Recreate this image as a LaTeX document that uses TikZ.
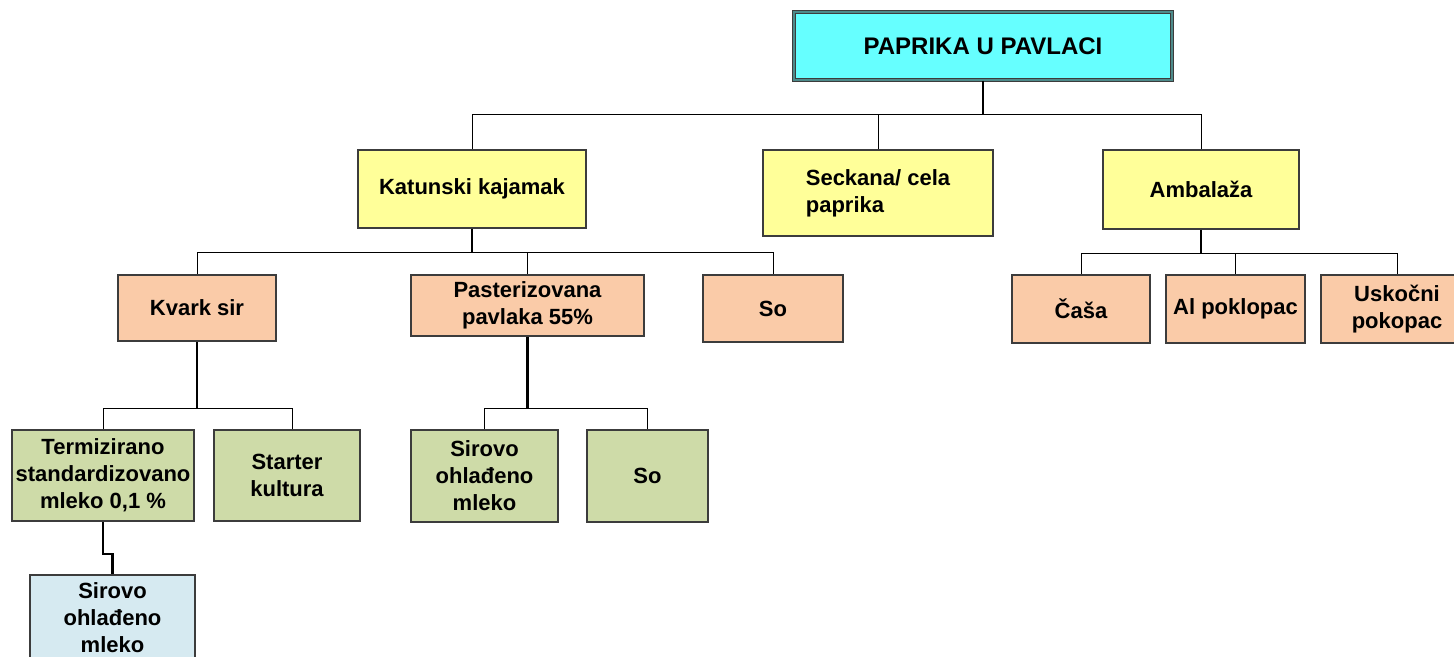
\documentclass[tikz,border=0pt]{standalone}
\usepackage{fontspec}
\setmainfont{Liberation Sans}
\usepackage{tikz}
\usetikzlibrary{positioning}

\definecolor{rootcyan}{RGB}{102,255,255}
\definecolor{lvlyellow}{RGB}{255,255,153}
\definecolor{lvlsalmon}{RGB}{250,203,168}
\definecolor{lvlgreen}{RGB}{206,219,168}
\definecolor{lvlblue}{RGB}{214,234,241}
\definecolor{boxline}{RGB}{60,60,60}

\begin{document}
\begin{tikzpicture}[x=0.5pt,y=-0.5pt]
\tikzstyle{every node}+=[inner sep=0pt, font=\bfseries\fontsize{11}{13.5}\selectfont, align=center]
\tikzstyle{box}=[draw=boxline, line width=0.75pt, minimum width=#1]
\tikzstyle{stem}=[black, line width=1.2pt]
\tikzstyle{branch}=[black, line width=0.5pt]
\useasboundingbox (0,0) rectangle (1454,657);
% top
\node [box=189pt, minimum height=34pt, fill=rootcyan, double=boxline!60!rootcyan, double distance=0.8pt, font=\bfseries\fontsize{12}{14}\selectfont] (root) at (983,46) {PAPRIKA U PAVLACI};
% second level
\node [box=114pt, minimum height=39pt, fill=lvlyellow] (kat) at (472,189) {Katunski kajamak};
\node [box=115pt, minimum height=43pt, fill=lvlyellow, align=left] (sec) at (878,193) {Seckana/ cela\\paprika};
\node [box=98pt, minimum height=39.5pt, fill=lvlyellow] (amb) at (1201,189.5) {Ambala\v{z}a};
% third level
\node [box=79pt, minimum height=33pt, fill=lvlsalmon] (kvark) at (197,308) {Kvark sir};
\node [box=116.5pt, minimum height=30.5pt, fill=lvlsalmon] (past) at (527.5,305.5) {Pasterizovana\\pavlaka 55\%};
\node [box=70pt, minimum height=33.5pt, fill=lvlsalmon] (so1) at (773,308.5) {So};
\node [box=69pt, minimum height=34pt, fill=lvlsalmon] (casa) at (1081,309) {\v{C}a\v{s}a};
\node [box=69.5pt, minimum height=34pt, fill=lvlsalmon] (al) at (1235.5,309) {Al poklopac};
\node [box=76pt, minimum height=34pt, fill=lvlsalmon] (usk) at (1397,309) {Usko\v{c}ni\\pokopac};
% fourth level
\node [box=91pt, minimum height=45.5pt, fill=lvlgreen] (term) at (103,475.5) {Termizirano\\standardizovano\\mleko 0,1 \%};
\node [box=73pt, minimum height=45.5pt, fill=lvlgreen] (start) at (287,475.5) {Starter\\kultura};
\node [box=73.5pt, minimum height=46pt, fill=lvlgreen] (sir1) at (484.5,476) {Sirovo\\ohla\dj eno\\mleko};
\node [box=60.5pt, minimum height=46pt, fill=lvlgreen] (so2) at (647.5,476) {So};
% fifth level
\node [box=82.5pt, minimum height=43pt, fill=lvlblue] (sir2) at (112.5,618) {Sirovo\\ohla\dj eno\\mleko};
% connectors
\coordinate (bar1) at (983,115);
\draw [stem] (root.south) -- (bar1);
\draw [branch] (bar1) -| (kat.north);
\draw [branch] (bar1) -| (sec.north);
\draw [branch] (bar1) -| (amb.north);
\coordinate (bar2) at (472,253);
\draw [stem] (kat.south) -- (bar2);
\draw [branch] (bar2) -| (kvark.north);
\draw [branch] (bar2) -| (past.north);
\draw [branch] (bar2) -| (so1.north);
\coordinate (bar3) at (1201,254);
\draw [stem] (amb.south) -- (bar3);
\draw [branch] (bar3) -| (casa.north);
\draw [branch] (bar3) -| (al.north);
\draw [branch] (bar3) -| (usk.north);
\coordinate (bar4) at (197,408);
\draw [stem] (kvark.south) -- (bar4);
\draw [branch] (bar4) -| (term.north);
\draw [branch] (bar4) -| ([xshift=2.5pt]start.north);
\coordinate (bar5) at (527.5,408);
\draw [stem] (past.south) -- (bar5);
\draw [branch] (bar5) -| (sir1.north);
\draw [branch] (bar5) -| (so2.north);
\draw [stem] (term.south) -- ++(0,32) -| (sir2.north);
\end{tikzpicture}
\end{document}
